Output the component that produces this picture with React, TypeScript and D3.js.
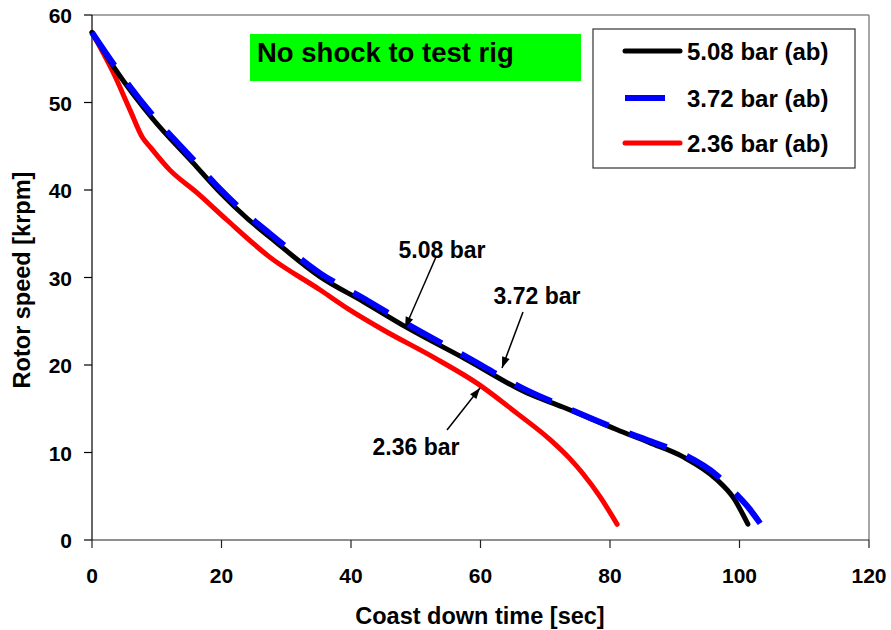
import React from "react";
import * as d3 from "d3";

const xTicks = [0, 20, 40, 60, 80, 100, 120];
const yTicks = [0, 10, 20, 30, 40, 50, 60];

const seriesNames = ["5.08 bar (ab)", "3.72 bar (ab)", "2.36 bar (ab)"];

const t508 = [0, 3.5, 9.3, 15.6, 19.8, 23.9, 27.5, 35.2, 42, 48.6, 57.9, 67.2, 72.7, 81.1, 86.2, 91.3, 96.5, 99.0, 101.3];
const v508 = [58.0, 53.9, 48.2, 43.1, 39.7, 36.8, 34.6, 30.1, 27.2, 24.3, 20.6, 16.8, 15.2, 12.6, 11.1, 9.5, 6.9, 4.9, 1.8];

const t372 = [0, 3.5, 9.3, 15.6, 19.8, 23.9, 27.5, 35.2, 42, 48.6, 57.9, 67.2, 72.7, 81.1, 86.2, 91.3, 96.5, 99.0, 101.5, 103.2];
const v372 = [58.0, 54.2, 48.6, 43.5, 40.1, 37.2, 35.0, 30.5, 27.6, 24.7, 20.9, 17.1, 15.3, 12.7, 11.3, 9.8, 7.4, 5.6, 3.6, 1.9];

const t236 = [0, 3.3, 5.9, 7.8, 9.0, 12.0, 16.2, 20.8, 27.5, 35.2, 39.8, 45.0, 52.7, 59.5, 65.6, 70.7, 73.8, 75.8, 78.5, 81.1];
const v236 = [58.0, 53.4, 49.1, 46.0, 44.9, 42.3, 39.7, 36.6, 32.3, 28.6, 26.3, 24.0, 20.9, 17.9, 14.5, 11.5, 9.3, 7.6, 4.9, 1.8];

const FONT = "'Liberation Sans', Arial, sans-serif";

export default function App() {
  const x = d3.scaleLinear().domain([0, 120]).range([92, 869]);
  const y = d3.scaleLinear().domain([0, 60]).range([540, 15]);

  const line = d3
    .line<[number, number]>()
    .x((d) => x(d[0]))
    .y((d) => y(d[1]))
    .curve(d3.curveMonotoneX);

  const zip = (ts: number[], vs: number[]) => ts.map((t, i) => [t, vs[i]] as [number, number]);

  const arrows = [
    { x1: 436, y1: 257, x2: 405, y2: 328 },
    { x1: 523, y1: 312, x2: 502, y2: 368 },
    { x1: 447, y1: 430, x2: 480, y2: 388 },
  ];

  const arrowHead = (a: { x1: number; y1: number; x2: number; y2: number }) => {
    const ang = Math.atan2(a.y2 - a.y1, a.x2 - a.x1);
    const L = 11;
    const W = 4;
    const bx = a.x2 - L * Math.cos(ang);
    const by = a.y2 - L * Math.sin(ang);
    const px = -Math.sin(ang) * W;
    const py = Math.cos(ang) * W;
    return `M${a.x2},${a.y2}L${bx + px},${by + py}L${bx - px},${by - py}Z`;
  };

  return (
    <svg
      width={891}
      height={630}
      style={{ position: "absolute", left: 0, top: 0, background: "#fff" }}
      fontFamily={FONT}
      fontWeight="bold"
    >
      <rect x={0} y={0} width={891} height={630} fill="#fff" />
      {/* plot border */}
      <line x1={92} y1={15} x2={869} y2={15} stroke="#888" strokeWidth={1.5} />
      <line x1={869} y1={15} x2={869} y2={540} stroke="#888" strokeWidth={1.5} />
      {/* axes */}
      <line x1={92} y1={15} x2={92} y2={540} stroke="#000" strokeWidth={1.2} />
      <line x1={92} y1={540} x2={869} y2={540} stroke="#222" strokeWidth={1.2} />
      {yTicks.map((t) => (
        <g key={"y" + t}>
          <line x1={84} x2={92} y1={y(t)} y2={y(t)} stroke="#000" strokeWidth={1.2} />
          <text x={72} y={y(t) + 8} textAnchor="end" fontSize={21}>
            {t}
          </text>
        </g>
      ))}
      {xTicks.map((t) => (
        <g key={"x" + t}>
          <line x1={x(t)} x2={x(t)} y1={540} y2={548} stroke="#222" strokeWidth={1.2} />
          <text x={x(t)} y={583} textAnchor="middle" fontSize={21}>
            {t}
          </text>
        </g>
      ))}
      <text x={480} y={624} textAnchor="middle" fontSize={23.5}>
        Coast down time [sec]
      </text>
      <text transform="translate(30,280) rotate(-90)" textAnchor="middle" fontSize={23.5}>
        Rotor speed [krpm]
      </text>

      {/* series */}
      <path d={line(zip(t236, v236)) || ""} fill="none" stroke="#ff0000" strokeWidth={5} strokeLinecap="round" strokeLinejoin="round" />
      <path d={line(zip(t508, v508)) || ""} fill="none" stroke="#000" strokeWidth={5} strokeLinecap="round" strokeLinejoin="round" />
      <path d={line(zip(t372, v372)) || ""} fill="none" stroke="#0000ff" strokeWidth={6} strokeDasharray="40,22" />

      {/* green label */}
      <rect x={250} y={34} width={331} height={47} fill="#00ff00" />
      <text x={257} y={62} fontSize={27.5}>
        No shock to test rig
      </text>

      {/* legend */}
      <rect x={593} y={29} width={262} height={139} fill="#fff" stroke="#333" strokeWidth={1.2} />
      <line x1={625} x2={680} y1={51} y2={51} stroke="#000" strokeWidth={5} strokeLinecap="round" />
      <text x={687} y={59.5} fontSize={24}>{seriesNames[0]}</text>
      <line x1={625} x2={665} y1={98} y2={98} stroke="#0000ff" strokeWidth={6} />
      <text x={687} y={106.5} fontSize={24}>{seriesNames[1]}</text>
      <line x1={625} x2={680} y1={143} y2={143} stroke="#ff0000" strokeWidth={5} strokeLinecap="round" />
      <text x={687} y={151.5} fontSize={24}>{seriesNames[2]}</text>

      {/* annotations */}
      <text x={442} y={258} textAnchor="middle" fontSize={23}>5.08 bar</text>
      <text x={537} y={304} textAnchor="middle" fontSize={23}>3.72 bar</text>
      <text x={416} y={455} textAnchor="middle" fontSize={23}>2.36 bar</text>
      {arrows.map((a, i) => (
        <g key={"a" + i}>
          <line x1={a.x1} y1={a.y1} x2={a.x2} y2={a.y2} stroke="#000" strokeWidth={1.5} />
          <path d={arrowHead(a)} fill="#000" />
        </g>
      ))}
    </svg>
  );
}
